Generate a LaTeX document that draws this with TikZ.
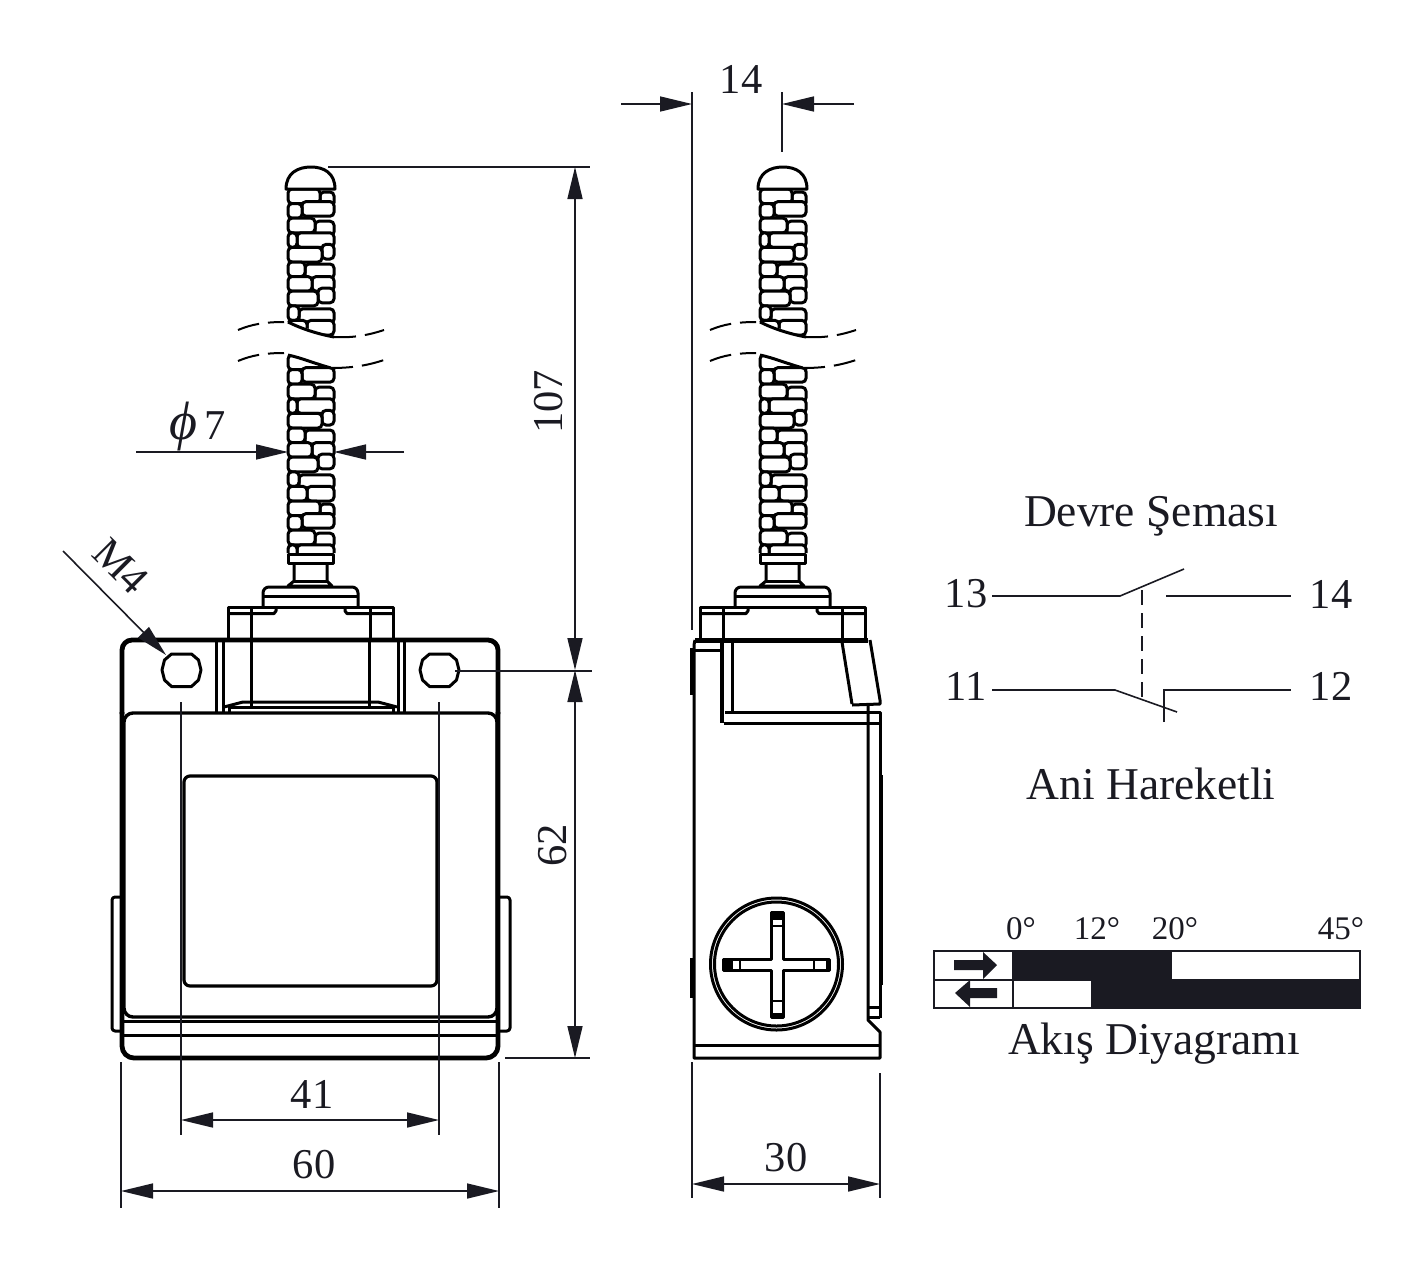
\documentclass[tikz,border=0pt]{standalone}
\usepackage{fontspec}
\setmainfont{Liberation Serif}
\usetikzlibrary{arrows.meta}
\definecolor{inkdark}{HTML}{1A1A22}
%% one stem: bricks of the coil from y #1 on, #2 rows
\newcommand{\coilrows}[2]{
  \foreach \rowno in {1,...,#2} {
    \pgfmathsetmacro{\rowy}{#1+14.6*(\rowno-1)}
    \pgfmathsetmacro{\jointx}{{307,320,302,315,297,322,305,312,318,299}[mod(\rowno,10)]}
    \pgfmathsetmacro{\rowstep}{{0,3,-2,3,0,-3,2,0,-3,3}[mod(\rowno,10)]}
    \draw[coildecorate] (\jointx,\rowy+\rowstep) rectangle (334,\rowy+14.6+\rowstep);
    \draw[coildecorate] (288,\rowy) rectangle (\jointx,\rowy+14.6);
  }
}
\begin{document}
\begin{tikzpicture}
[x=1pt,y=-1pt,
  coildecorate/.style={line width=3pt,rounded corners=4pt,fill=white},%
  partdecorate/.style={line width=3pt,line join=round},%
  thickdecorate/.style={line width=4.8pt,line join=round},%
  dimdecorate/.style={line width=1.6pt,draw=inkdark},%
  tipdecorate/.style={dimdecorate,{Triangle[length=32pt,width=15pt,fill=inkdark]}-{Triangle[length=32pt,width=15pt,fill=inkdark]}},%
  endtipdecorate/.style={dimdecorate,-{Triangle[length=32pt,width=15pt,fill=inkdark]}},%
  labeldecorate/.style={font=\fontsize{42.5}{44}\selectfont,text=inkdark,inner sep=0pt},%
  titledecorate/.style={font=\fontsize{45.5}{48}\selectfont,text=inkdark,inner sep=0pt},%
  anglelabel/.style={font=\fontsize{33}{35}\selectfont,text=inkdark,inner sep=0pt}]
\useasboundingbox (0,0) rectangle (1427,1272);
%% stem and top cap, the same in both views
\foreach \stemx in {0,472} {
  \begin{scope}[xshift=\stemx]
    \begin{scope}
      \clip (280,188) -- (342,188) -- (342,337) -- (334,337) -- (288,322) -- (280,322) -- cycle;
      \coilrows{189}{10}
    \end{scope}
    \begin{scope}
      \clip (280,355) -- (288,355) -- (331,368) -- (342,368) -- (342,553) -- (280,553) -- cycle;
      \coilrows{355}{14}
    \end{scope}
    \draw[partdecorate,fill=white] (286,189) .. controls (286,173) and (298,167) .. (311,167) .. controls (324,167) and (335,173) .. (335,189) -- cycle;
    %% break lines
    \draw[partdecorate] (288,322) .. controls (302,329) and (318,334) .. (334,337);
    \draw[partdecorate] (288,355) .. controls (302,358) and (316,364) .. (331,368);
    \draw[line width=2pt,dash pattern=on 22pt off 9pt]
      (238,330) .. controls (252,324) and (266,322) .. (284,322);
    \draw[line width=2pt,dash pattern=on 22pt off 9pt]
      (238,361) .. controls (252,355) and (266,353) .. (284,353);
    \draw[line width=2pt,dash pattern=on 22pt off 9pt]
      (334,337) .. controls (350,338) and (366,336) .. (384,330);
    \draw[line width=2pt,dash pattern=on 22pt off 9pt]
      (331,368) .. controls (350,368) and (366,366) .. (384,360);
    %% collar, neck, boss and cap
    \draw[partdecorate,fill=white] (288,554) rectangle (333,563);
    \draw[partdecorate] (294,563) -- (294,581) -- (288,586) -- (332,586) -- (327,581) -- (327,563);
    \draw[partdecorate] (294,581) -- (327,581);
    \draw[partdecorate,rounded corners=6pt] (263,607) -- (263,587) -- (358,587) -- (358,607);
    \draw[partdecorate] (263,596) -- (358,596);
    \draw[partdecorate] (228,640) -- (228,607) -- (393,607) -- (393,640);
    \draw[partdecorate] (228,613.5) -- (274,613.5) -- (276,611) -- (276,607);
    \draw[partdecorate] (393,613.5) -- (347,613.5) -- (345,611) -- (345,607);
    \draw[partdecorate] (251,607) -- (251,640);
    \draw[partdecorate] (370,607) -- (370,640);
  \end{scope}
}
%% front view
\draw[thickdecorate,rounded corners=10pt] (122,714) -- (122,640) -- (498,640) -- (498,714);
\draw[thickdecorate,rounded corners=12pt] (122,712) -- (122,1058) -- (498,1058) -- (498,712);
\draw[partdecorate,line width=3.4pt,rounded corners=9pt] (124,1017) rectangle (497,713);
\draw[partdecorate] (122,1021) -- (498,1021);
\draw[partdecorate] (122,1035) -- (498,1035);
\draw[partdecorate,line width=3.2pt,rounded corners=6pt] (184,776) rectangle (437,986);
%% side tabs
\draw[partdecorate,rounded corners=3pt] (121,897) -- (112,897) -- (112,1031) -- (121,1031);
\draw[partdecorate,rounded corners=3pt] (500,897) -- (510,897) -- (510,1031) -- (500,1031);
%% holes
\foreach \holex in {181.5,439.5} {
  \draw[partdecorate] (\holex-19.5,670) -- (\holex-17,660) -- (\holex-10,654) -- (\holex+10,654) -- (\holex+17,660) -- (\holex+19.5,670) -- (\holex+17,680) -- (\holex+10,686.5) -- (\holex-10,686.5) -- (\holex-17,680) -- cycle;
}
%% window of the head
\foreach \barx in {216,223,398,404} {
  \draw[partdecorate] (\barx,640) -- (\barx,712);
}
\draw[partdecorate] (251,640) -- (251,707);
\draw[partdecorate] (369,640) -- (369,707);
\draw[partdecorate] (224,707) -- (243,702) -- (378,702) -- (397,707);
\draw[partdecorate] (229,713) -- (229,707) -- (393,707) -- (393,713);
%% side view
\draw[thickdecorate,line width=5pt] (695,640) -- (868,640);
\draw[partdecorate] (695,640) -- (694,645) -- (694,1058) -- (880,1058) -- (880,1032) -- (868,1020) -- (868,705);
\draw[thickdecorate] (692,648) -- (692,695);
\draw[thickdecorate] (692,958) -- (692,998);
\draw[thickdecorate,line width=3.6pt] (881,775) -- (881,985);
\draw[partdecorate] (694,650) -- (722,650);
\draw[thickdecorate] (722,640) -- (722,723);
\draw[partdecorate] (732,640) -- (732,712);
\draw[partdecorate] (725,712) -- (880,712) -- (880,1018);
\draw[partdecorate] (724,723) -- (880,723);
\draw[partdecorate] (842,642) -- (852,704);
\draw[partdecorate] (870,640) -- (880,700) -- (880,704) -- (852,705);
\draw[partdecorate] (868,1007) -- (880,1007);
\draw[partdecorate] (868,1017) -- (880,1017);
\draw[partdecorate] (694,1045) -- (880,1045);
%% screw
\draw[partdecorate] (776.5,964) circle[radius=66];
\draw[partdecorate] (776.5,964) circle[radius=62];
\draw[partdecorate] (771,959) -- (771,912) -- (783,912) -- (783,959) -- (829,959) -- (829,970) -- (783,970) -- (783,1017) -- (771,1017) -- (771,970) -- (723,970) -- (723,959) -- cycle;
\fill (771,912) rectangle (783,920);
\fill (723,959) rectangle (733,970);
\fill (771,1013) rectangle (783,1017);
\fill (826,959) rectangle (829,970);
\draw[line width=2pt] (771,926) -- (783,926) (740,959) -- (740,970) (771,1001) -- (783,1001) (814,959) -- (814,970);
%% points of the dimension lines
\foreach \nodename/\x/\y in {
  a1/621/104, a2/692/104, a3/854/104, a4/782/104, a5/692/92, a6/692/630, a7/782/92, a8/782/152,
  b1/575/167, b2/575/670, b3/575/1058, b4/328/167, b5/590/167, b6/455/671, b7/592/671, b8/505/1058, b9/590/1058,
  c1/136/452, c2/288/452, c3/404/452, c4/334/452,
  d1/63/551, d2/166/655,
  e1/181/1120, e2/439/1120, e3/181/702, e4/181/1135, e5/439/702, e6/439/1135,
  f1/121/1191, f2/499/1191, f3/121/1062, f4/121/1208, f5/499/1062, f6/499/1208,
  g1/692/1184, g2/880/1184, g3/692/1062, g4/692/1198, g5/880/1073, g6/880/1198} {
  \coordinate (\nodename) at (\x,\y);
}
%% dimension lines
\foreach \startnode/\endnode in {a5/a6, a7/a8, b4/b5, b6/b7, b8/b9, e3/e4, e5/e6, f3/f4, f5/f6, g3/g4, g5/g6} {
  \draw[dimdecorate] (\startnode) -- (\endnode);
}
\foreach \startnode/\endnode in {a1/a2, a3/a4, c1/c2, c3/c4, d1/d2} {
  \draw[endtipdecorate] (\startnode) -- (\endnode);
}
\foreach \startnode/\endnode in {b1/b2, b2/b3, e1/e2, f1/f2, g1/g2} {
  \draw[tipdecorate] (\startnode) -- (\endnode);
}
%% labels of the dimensions
\foreach \nodename/\x/\y/\turn/\txt in {
  t14/741/79/0/14, t107/549/402/90/107, t62/553/845/90/62, tm4/121/566/-45/M4,
  t41/312/1094/0/41, t60/314/1165/0/60, t30/786/1158/0/30} {
  \node (\nodename) at (\x,\y) [labeldecorate,rotate=\turn] {\txt};
}
\node (tphi) at (198,427) [labeldecorate] {{\fontsize{54}{54}\selectfont\textit{ϕ}}\,7};
%% circuit
\foreach \nodename/\x/\y/\txt in {
  n13/966/594/13, n14/1331/594/14, n11/966/686/11, n12/1331/686/12} {
  \node (\nodename) at (\x,\y) [labeldecorate] {\txt};
}
\foreach \nodename/\x/\y/\txt in {
  tcircuit/1151/516/Devre Şeması, taction/1151/784/Ani Hareketli, tflow/1154/1044/Akış Diyagramı} {
  \node (\nodename) at (\x,\y) [titledecorate] {\txt};
}
\foreach \nodename/\x/\y in {
  s1/992/596, s2/1120/596, s3/1184/569, s4/1166/596, s5/1291/596, s6/1142/590, s7/1142/700,
  s8/992/690, s9/1115/690, s10/1177/712, s11/1164/722, s12/1164/690, s13/1291/690} {
  \coordinate (\nodename) at (\x,\y);
}
\draw[dimdecorate] (s1) -- (s2) -- (s3);
\draw[dimdecorate] (s4) -- (s5);
\draw[dimdecorate,dashed,dash pattern=on 15pt off 8pt] (s6) -- (s7);
\draw[dimdecorate] (s8) -- (s9) -- (s10);
\draw[dimdecorate] (s11) -- (s12) -- (s13);
%% flow chart
\fill[inkdark] (1013,951) rectangle (1172,979);
\fill[inkdark] (1091,979) rectangle (1361,1008);
\draw[dimdecorate,line width=1.8pt] (934,951) rectangle (1360,1008);
\draw[dimdecorate,line width=1.8pt] (934,980) -- (1091,980);
\draw[dimdecorate,line width=1.8pt] (1013,951) -- (1013,1008);
\fill[inkdark] (954,960) -- (983,960) -- (983,952) -- (997,965) -- (983,979) -- (983,970) -- (954,970) -- cycle;
\fill[inkdark] (997,988) -- (970,988) -- (970,980) -- (955,993) -- (970,1007) -- (970,998) -- (997,998) -- cycle;
\foreach \nodename/\x/\txt in {w0/1021/0°, w12/1097/12°, w20/1175/20°, w45/1341/45°} {
  \node (\nodename) at (\x,929) [anglelabel] {\txt};
}
\end{tikzpicture}
\end{document}
